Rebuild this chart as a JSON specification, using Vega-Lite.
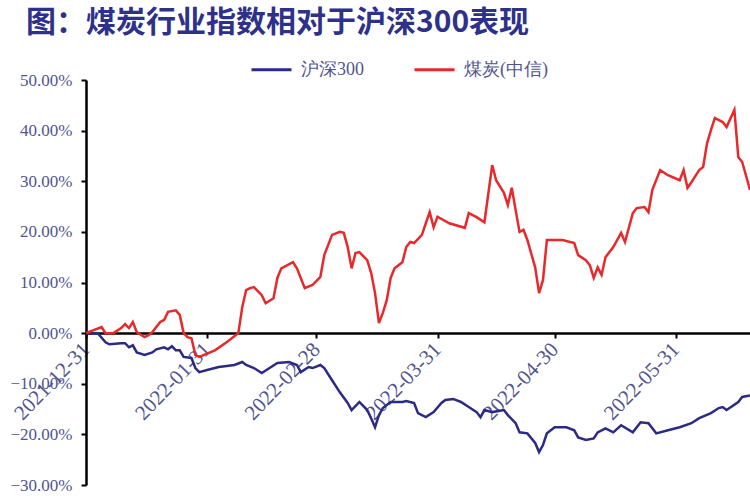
{
  "$schema": "https://vega.github.io/schema/vega-lite/v6.json",
  "width": 664,
  "height": 405,
  "autosize": "none",
  "padding": {"left": 86, "top": 80, "right": 0, "bottom": 15},
  "background": "white",
  "title": {
    "text": "图：煤炭行业指数相对于沪深300表现",
    "anchor": "start",
    "frame": "group",
    "dx": -60,
    "offset": 10,
    "font": "Noto Sans CJK SC",
    "fontSize": 30,
    "fontWeight": "bold",
    "color": "#2e318a"
  },
  "config": {
    "view": {"stroke": null},
    "axis": {
      "labelFont": "Liberation Serif",
      "labelColor": "#50558f",
      "domainColor": "black",
      "tickColor": "black",
      "grid": false,
      "title": null
    }
  },
  "data": {
    "values": [
      {"date": "2021-12-31", "series": "沪深300", "value": 0},
      {"date": "2022-01-03", "series": "沪深300", "value": 0},
      {"date": "2022-01-05", "series": "沪深300", "value": -1.8},
      {"date": "2022-01-06", "series": "沪深300", "value": -2.2},
      {"date": "2022-01-09", "series": "沪深300", "value": -2.0},
      {"date": "2022-01-10", "series": "沪深300", "value": -2.0},
      {"date": "2022-01-11", "series": "沪深300", "value": -2.8},
      {"date": "2022-01-12", "series": "沪深300", "value": -2.4},
      {"date": "2022-01-13", "series": "沪深300", "value": -3.8},
      {"date": "2022-01-15", "series": "沪深300", "value": -4.3},
      {"date": "2022-01-17", "series": "沪深300", "value": -3.8},
      {"date": "2022-01-18", "series": "沪深300", "value": -3.2},
      {"date": "2022-01-20", "series": "沪深300", "value": -2.8},
      {"date": "2022-01-21", "series": "沪深300", "value": -3.2},
      {"date": "2022-01-22", "series": "沪深300", "value": -2.6},
      {"date": "2022-01-23", "series": "沪深300", "value": -3.4},
      {"date": "2022-01-24", "series": "沪深300", "value": -3.4},
      {"date": "2022-01-25", "series": "沪深300", "value": -4.7},
      {"date": "2022-01-27", "series": "沪深300", "value": -4.9},
      {"date": "2022-01-28", "series": "沪深300", "value": -6.9},
      {"date": "2022-01-29", "series": "沪深300", "value": -7.7},
      {"date": "2022-01-31", "series": "沪深300", "value": -7.3},
      {"date": "2022-02-03", "series": "沪深300", "value": -6.7},
      {"date": "2022-02-07", "series": "沪深300", "value": -6.3},
      {"date": "2022-02-09", "series": "沪深300", "value": -5.7},
      {"date": "2022-02-10", "series": "沪深300", "value": -6.3},
      {"date": "2022-02-12", "series": "沪深300", "value": -6.9},
      {"date": "2022-02-14", "series": "沪深300", "value": -7.9},
      {"date": "2022-02-16", "series": "沪深300", "value": -6.9},
      {"date": "2022-02-18", "series": "沪深300", "value": -5.9},
      {"date": "2022-02-21", "series": "沪深300", "value": -5.7},
      {"date": "2022-02-23", "series": "沪深300", "value": -6.3},
      {"date": "2022-02-24", "series": "沪深300", "value": -7.7},
      {"date": "2022-02-26", "series": "沪深300", "value": -6.7},
      {"date": "2022-02-27", "series": "沪深300", "value": -6.9},
      {"date": "2022-03-01", "series": "沪深300", "value": -6.3},
      {"date": "2022-03-02", "series": "沪深300", "value": -6.9},
      {"date": "2022-03-04", "series": "沪深300", "value": -9.3},
      {"date": "2022-03-06", "series": "沪深300", "value": -11.7},
      {"date": "2022-03-08", "series": "沪深300", "value": -13.8},
      {"date": "2022-03-09", "series": "沪深300", "value": -15.2},
      {"date": "2022-03-11", "series": "沪深300", "value": -13.6},
      {"date": "2022-03-13", "series": "沪深300", "value": -15.2},
      {"date": "2022-03-14", "series": "沪深300", "value": -16.8},
      {"date": "2022-03-15", "series": "沪深300", "value": -18.6},
      {"date": "2022-03-16", "series": "沪深300", "value": -16.2},
      {"date": "2022-03-17", "series": "沪深300", "value": -14.8},
      {"date": "2022-03-19", "series": "沪深300", "value": -13.6},
      {"date": "2022-03-22", "series": "沪深300", "value": -13.6},
      {"date": "2022-03-23", "series": "沪深300", "value": -13.4},
      {"date": "2022-03-25", "series": "沪深300", "value": -13.8},
      {"date": "2022-03-26", "series": "沪深300", "value": -15.8},
      {"date": "2022-03-28", "series": "沪深300", "value": -16.6},
      {"date": "2022-03-30", "series": "沪深300", "value": -15.6},
      {"date": "2022-04-01", "series": "沪深300", "value": -13.8},
      {"date": "2022-04-02", "series": "沪深300", "value": -13.2},
      {"date": "2022-04-04", "series": "沪深300", "value": -13.0},
      {"date": "2022-04-06", "series": "沪深300", "value": -13.6},
      {"date": "2022-04-08", "series": "沪深300", "value": -14.6},
      {"date": "2022-04-10", "series": "沪深300", "value": -15.6},
      {"date": "2022-04-11", "series": "沪深300", "value": -16.6},
      {"date": "2022-04-12", "series": "沪深300", "value": -15.2},
      {"date": "2022-04-14", "series": "沪深300", "value": -15.6},
      {"date": "2022-04-17", "series": "沪深300", "value": -15.2},
      {"date": "2022-04-18", "series": "沪深300", "value": -16.2},
      {"date": "2022-04-20", "series": "沪深300", "value": -17.8},
      {"date": "2022-04-21", "series": "沪深300", "value": -19.6},
      {"date": "2022-04-23", "series": "沪深300", "value": -19.8},
      {"date": "2022-04-25", "series": "沪深300", "value": -21.7},
      {"date": "2022-04-26", "series": "沪深300", "value": -23.5},
      {"date": "2022-04-27", "series": "沪深300", "value": -22.1},
      {"date": "2022-04-28", "series": "沪深300", "value": -19.8},
      {"date": "2022-04-30", "series": "沪深300", "value": -18.6},
      {"date": "2022-05-03", "series": "沪深300", "value": -18.6},
      {"date": "2022-05-05", "series": "沪深300", "value": -19.2},
      {"date": "2022-05-06", "series": "沪深300", "value": -20.6},
      {"date": "2022-05-08", "series": "沪深300", "value": -21.1},
      {"date": "2022-05-10", "series": "沪深300", "value": -20.8},
      {"date": "2022-05-11", "series": "沪深300", "value": -19.6},
      {"date": "2022-05-13", "series": "沪深300", "value": -18.8},
      {"date": "2022-05-15", "series": "沪深300", "value": -19.6},
      {"date": "2022-05-17", "series": "沪深300", "value": -18.2},
      {"date": "2022-05-20", "series": "沪深300", "value": -19.6},
      {"date": "2022-05-22", "series": "沪深300", "value": -17.6},
      {"date": "2022-05-24", "series": "沪深300", "value": -17.8},
      {"date": "2022-05-26", "series": "沪深300", "value": -19.8},
      {"date": "2022-05-29", "series": "沪深300", "value": -19.2},
      {"date": "2022-06-01", "series": "沪深300", "value": -18.6},
      {"date": "2022-06-04", "series": "沪深300", "value": -17.8},
      {"date": "2022-06-06", "series": "沪深300", "value": -16.8},
      {"date": "2022-06-09", "series": "沪深300", "value": -15.8},
      {"date": "2022-06-11", "series": "沪深300", "value": -14.8},
      {"date": "2022-06-12", "series": "沪深300", "value": -14.6},
      {"date": "2022-06-13", "series": "沪深300", "value": -15.2},
      {"date": "2022-06-16", "series": "沪深300", "value": -13.6},
      {"date": "2022-06-17", "series": "沪深300", "value": -12.6},
      {"date": "2022-06-19", "series": "沪深300", "value": -12.3},
      {"date": "2021-12-31", "series": "煤炭(中信)", "value": 0},
      {"date": "2022-01-04", "series": "煤炭(中信)", "value": 1.2},
      {"date": "2022-01-05", "series": "煤炭(中信)", "value": 0},
      {"date": "2022-01-07", "series": "煤炭(中信)", "value": 0},
      {"date": "2022-01-09", "series": "煤炭(中信)", "value": 1.0},
      {"date": "2022-01-10", "series": "煤炭(中信)", "value": 1.8},
      {"date": "2022-01-11", "series": "煤炭(中信)", "value": 1.0},
      {"date": "2022-01-12", "series": "煤炭(中信)", "value": 2.2},
      {"date": "2022-01-13", "series": "煤炭(中信)", "value": 0.2},
      {"date": "2022-01-15", "series": "煤炭(中信)", "value": -0.8},
      {"date": "2022-01-16", "series": "煤炭(中信)", "value": -0.4},
      {"date": "2022-01-17", "series": "煤炭(中信)", "value": 0.2},
      {"date": "2022-01-19", "series": "煤炭(中信)", "value": 2.2},
      {"date": "2022-01-20", "series": "煤炭(中信)", "value": 2.6},
      {"date": "2022-01-21", "series": "煤炭(中信)", "value": 4.2},
      {"date": "2022-01-23", "series": "煤炭(中信)", "value": 4.5},
      {"date": "2022-01-24", "series": "煤炭(中信)", "value": 3.6},
      {"date": "2022-01-25", "series": "煤炭(中信)", "value": 0},
      {"date": "2022-01-26", "series": "煤炭(中信)", "value": -0.8},
      {"date": "2022-01-27", "series": "煤炭(中信)", "value": -1.0},
      {"date": "2022-01-28", "series": "煤炭(中信)", "value": -4.3},
      {"date": "2022-01-29", "series": "煤炭(中信)", "value": -4.7},
      {"date": "2022-02-02", "series": "煤炭(中信)", "value": -3.4},
      {"date": "2022-02-05", "series": "煤炭(中信)", "value": -1.8},
      {"date": "2022-02-08", "series": "煤炭(中信)", "value": 0},
      {"date": "2022-02-09", "series": "煤炭(中信)", "value": 5.1},
      {"date": "2022-02-10", "series": "煤炭(中信)", "value": 8.5},
      {"date": "2022-02-11", "series": "煤炭(中信)", "value": 8.9},
      {"date": "2022-02-12", "series": "煤炭(中信)", "value": 9.1},
      {"date": "2022-02-14", "series": "煤炭(中信)", "value": 7.5},
      {"date": "2022-02-15", "series": "煤炭(中信)", "value": 5.9},
      {"date": "2022-02-17", "series": "煤炭(中信)", "value": 6.9},
      {"date": "2022-02-18", "series": "煤炭(中信)", "value": 10.9},
      {"date": "2022-02-19", "series": "煤炭(中信)", "value": 12.8},
      {"date": "2022-02-22", "series": "煤炭(中信)", "value": 14.0},
      {"date": "2022-02-23", "series": "煤炭(中信)", "value": 12.8},
      {"date": "2022-02-25", "series": "煤炭(中信)", "value": 8.9},
      {"date": "2022-02-27", "series": "煤炭(中信)", "value": 9.5},
      {"date": "2022-03-01", "series": "煤炭(中信)", "value": 11.1},
      {"date": "2022-03-02", "series": "煤炭(中信)", "value": 15.4},
      {"date": "2022-03-04", "series": "煤炭(中信)", "value": 19.4},
      {"date": "2022-03-06", "series": "煤炭(中信)", "value": 20.0},
      {"date": "2022-03-07", "series": "煤炭(中信)", "value": 19.8},
      {"date": "2022-03-08", "series": "煤炭(中信)", "value": 17.0},
      {"date": "2022-03-09", "series": "煤炭(中信)", "value": 12.8},
      {"date": "2022-03-10", "series": "煤炭(中信)", "value": 15.8},
      {"date": "2022-03-11", "series": "煤炭(中信)", "value": 16.0},
      {"date": "2022-03-13", "series": "煤炭(中信)", "value": 14.4},
      {"date": "2022-03-14", "series": "煤炭(中信)", "value": 11.9},
      {"date": "2022-03-15", "series": "煤炭(中信)", "value": 7.9},
      {"date": "2022-03-16", "series": "煤炭(中信)", "value": 2.0},
      {"date": "2022-03-17", "series": "煤炭(中信)", "value": 4.0},
      {"date": "2022-03-18", "series": "煤炭(中信)", "value": 6.5},
      {"date": "2022-03-19", "series": "煤炭(中信)", "value": 10.9},
      {"date": "2022-03-20", "series": "煤炭(中信)", "value": 12.8},
      {"date": "2022-03-22", "series": "煤炭(中信)", "value": 14.0},
      {"date": "2022-03-23", "series": "煤炭(中信)", "value": 17.0},
      {"date": "2022-03-24", "series": "煤炭(中信)", "value": 18.0},
      {"date": "2022-03-25", "series": "煤炭(中信)", "value": 17.8},
      {"date": "2022-03-27", "series": "煤炭(中信)", "value": 19.4},
      {"date": "2022-03-28", "series": "煤炭(中信)", "value": 21.7},
      {"date": "2022-03-29", "series": "煤炭(中信)", "value": 23.9},
      {"date": "2022-03-30", "series": "煤炭(中信)", "value": 20.9},
      {"date": "2022-03-31", "series": "煤炭(中信)", "value": 23.0},
      {"date": "2022-04-03", "series": "煤炭(中信)", "value": 21.7},
      {"date": "2022-04-07", "series": "煤炭(中信)", "value": 20.8},
      {"date": "2022-04-08", "series": "煤炭(中信)", "value": 23.7},
      {"date": "2022-04-10", "series": "煤炭(中信)", "value": 22.9},
      {"date": "2022-04-12", "series": "煤炭(中信)", "value": 21.9},
      {"date": "2022-04-14", "series": "煤炭(中信)", "value": 33.2},
      {"date": "2022-04-15", "series": "煤炭(中信)", "value": 30.2},
      {"date": "2022-04-17", "series": "煤炭(中信)", "value": 27.7},
      {"date": "2022-04-18", "series": "煤炭(中信)", "value": 25.3},
      {"date": "2022-04-19", "series": "煤炭(中信)", "value": 28.7},
      {"date": "2022-04-20", "series": "煤炭(中信)", "value": 24.3},
      {"date": "2022-04-21", "series": "煤炭(中信)", "value": 20.0},
      {"date": "2022-04-22", "series": "煤炭(中信)", "value": 20.4},
      {"date": "2022-04-23", "series": "煤炭(中信)", "value": 18.4},
      {"date": "2022-04-25", "series": "煤炭(中信)", "value": 13.0},
      {"date": "2022-04-26", "series": "煤炭(中信)", "value": 7.9},
      {"date": "2022-04-27", "series": "煤炭(中信)", "value": 10.5},
      {"date": "2022-04-28", "series": "煤炭(中信)", "value": 18.4},
      {"date": "2022-05-02", "series": "煤炭(中信)", "value": 18.4},
      {"date": "2022-05-05", "series": "煤炭(中信)", "value": 17.8},
      {"date": "2022-05-06", "series": "煤炭(中信)", "value": 15.4},
      {"date": "2022-05-08", "series": "煤炭(中信)", "value": 14.4},
      {"date": "2022-05-09", "series": "煤炭(中信)", "value": 13.4},
      {"date": "2022-05-10", "series": "煤炭(中信)", "value": 10.9},
      {"date": "2022-05-11", "series": "煤炭(中信)", "value": 13.0},
      {"date": "2022-05-12", "series": "煤炭(中信)", "value": 11.5},
      {"date": "2022-05-13", "series": "煤炭(中信)", "value": 15.0},
      {"date": "2022-05-15", "series": "煤炭(中信)", "value": 17.0},
      {"date": "2022-05-17", "series": "煤炭(中信)", "value": 19.8},
      {"date": "2022-05-18", "series": "煤炭(中信)", "value": 18.0},
      {"date": "2022-05-20", "series": "煤炭(中信)", "value": 23.7},
      {"date": "2022-05-21", "series": "煤炭(中信)", "value": 24.7},
      {"date": "2022-05-23", "series": "煤炭(中信)", "value": 24.9},
      {"date": "2022-05-24", "series": "煤炭(中信)", "value": 23.9},
      {"date": "2022-05-25", "series": "煤炭(中信)", "value": 28.3},
      {"date": "2022-05-27", "series": "煤炭(中信)", "value": 32.2},
      {"date": "2022-05-29", "series": "煤炭(中信)", "value": 31.2},
      {"date": "2022-06-01", "series": "煤炭(中信)", "value": 30.2},
      {"date": "2022-06-02", "series": "煤炭(中信)", "value": 32.2},
      {"date": "2022-06-03", "series": "煤炭(中信)", "value": 28.7},
      {"date": "2022-06-04", "series": "煤炭(中信)", "value": 29.8},
      {"date": "2022-06-06", "series": "煤炭(中信)", "value": 32.2},
      {"date": "2022-06-07", "series": "煤炭(中信)", "value": 32.8},
      {"date": "2022-06-08", "series": "煤炭(中信)", "value": 37.5},
      {"date": "2022-06-09", "series": "煤炭(中信)", "value": 40.1},
      {"date": "2022-06-10", "series": "煤炭(中信)", "value": 42.5},
      {"date": "2022-06-12", "series": "煤炭(中信)", "value": 41.7},
      {"date": "2022-06-13", "series": "煤炭(中信)", "value": 40.7},
      {"date": "2022-06-15", "series": "煤炭(中信)", "value": 44.1},
      {"date": "2022-06-16", "series": "煤炭(中信)", "value": 34.8},
      {"date": "2022-06-17", "series": "煤炭(中信)", "value": 33.8},
      {"date": "2022-06-19", "series": "煤炭(中信)", "value": 28.3}
    ]
  },
  "mark": {"type": "line", "strokeWidth": 2.5, "clip": true},
  "encoding": {
    "x": {
      "field": "date",
      "type": "temporal",
      "scale": {"domain": ["2021-12-31", "2022-06-19"]},
      "axis": {
        "offset": -152,
        "values": ["2021-12-31", "2022-01-31", "2022-02-28", "2022-03-31", "2022-04-30", "2022-05-31"],
        "format": "%Y-%m-%d",
        "labelAngle": -46,
        "labelAlign": "right",
        "labelBaseline": "middle",
        "labelFontSize": 21,
        "labelPadding": 8,
        "labelOverlap": false,
        "labelBound": false,
        "labelFlush": false,
        "domainWidth": 2.5,
        "tickWidth": 2,
        "tickSize": 5
      }
    },
    "y": {
      "field": "value",
      "type": "quantitative",
      "scale": {"domain": [-30, 50], "nice": false, "zero": false},
      "axis": {
        "values": [-30, -20, -10, 0, 10, 20, 30, 40, 50],
        "labelExpr": "format(datum.value, '.2f') + '%'",
        "labelFontSize": 17,
        "labelPadding": 9,
        "domainWidth": 2.5,
        "tickWidth": 2,
        "tickSize": 5
      }
    },
    "color": {
      "field": "series",
      "type": "nominal",
      "scale": {"domain": ["沪深300", "煤炭(中信)"], "range": ["#2b2b85", "#e8292c"]},
      "legend": {
        "title": null,
        "orient": "none",
        "legendX": 164,
        "legendY": -32,
        "direction": "horizontal",
        "symbolType": "stroke",
        "symbolSize": 1600,
        "symbolStrokeWidth": 3,
        "labelFont": "Liberation Serif",
        "labelFontSize": 18,
        "labelColor": "#50558f",
        "columnPadding": 44,
        "labelOffset": 8
      }
    }
  }
}
